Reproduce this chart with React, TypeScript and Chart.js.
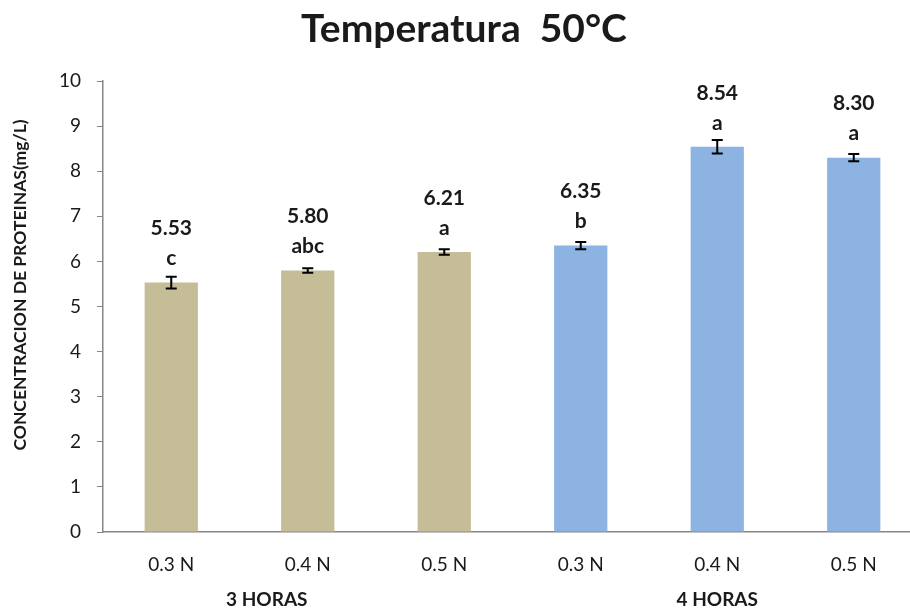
import React, { useEffect, useRef } from "react";
import { Chart, registerables } from "chart.js";

Chart.register(...registerables);

const categories = ["0.3 N", "0.4 N", "0.5 N", "0.3 N", "0.4 N", "0.5 N"];
const values = [5.53, 5.8, 6.21, 6.35, 8.54, 8.3];
const errors = [0.13, 0.05, 0.06, 0.08, 0.15, 0.08];
const letters = ["c", "abc", "a", "b", "a", "a"];
const valueLabels = ["5.53", "5.80", "6.21", "6.35", "8.54", "8.30"];
const groups = [
  { label: "3 HORAS", at: 0.7 },
  { label: "4 HORAS", at: 4 },
];
const barColors = ["#c4bd97", "#c4bd97", "#c4bd97", "#8db3e2", "#8db3e2", "#8db3e2"];

const FONT = "Lato, 'Open Sans', sans-serif";
const TEXT = "#1a1a1a";

const overlay = {
  id: "overlay",
  afterDatasetsDraw(chart: any) {
    const ctx = chart.ctx;
    const x = chart.scales.x;
    const y = chart.scales.y;
    ctx.save();
    // error bars
    ctx.strokeStyle = "#000";
    ctx.lineWidth = 2;
    values.forEach((v, i) => {
      const px = x.getPixelForValue(i);
      const top = y.getPixelForValue(v + errors[i]);
      const bot = y.getPixelForValue(v - errors[i]);
      ctx.beginPath();
      ctx.moveTo(px, top);
      ctx.lineTo(px, bot);
      ctx.moveTo(px - 5.5, top);
      ctx.lineTo(px + 5.5, top);
      ctx.moveTo(px - 5.5, bot);
      ctx.lineTo(px + 5.5, bot);
      ctx.stroke();
    });
    // labels
    ctx.fillStyle = TEXT;
    ctx.textAlign = "center";
    ctx.textBaseline = "middle";
    ctx.font = `bold 21px ${FONT}`;
    values.forEach((v, i) => {
      const px = x.getPixelForValue(i);
      const py = y.getPixelForValue(v);
      ctx.fillText(letters[i], px, py - 24);
      ctx.fillText(valueLabels[i], px, py - 54);
    });
    // group labels
    ctx.font = `bold 19px ${FONT}`;
    groups.forEach((g) => {
      ctx.fillText(g.label, x.getPixelForValue(g.at), 600);
    });
    // title
    ctx.font = `bold 39px ${FONT}`;
    ctx.fillText("Temperatura  50°C", 464, 29);
    // y title
    ctx.translate(20, 285);
    ctx.rotate(-Math.PI / 2);
    ctx.font = `bold 17.5px ${FONT}`;
    ctx.fillText("CONCENTRACION DE PROTEINAS(mg/L)", 0, 0, 368);
    ctx.restore();
  },
};

export default function App() {
  const ref = useRef<HTMLCanvasElement>(null);
  useEffect(() => {
    const canvas = ref.current!;
    const chart = new Chart(canvas, {
      type: "bar",
      data: {
        labels: categories,
        datasets: [
          {
            data: values,
            backgroundColor: barColors,
            barPercentage: 0.39,
            categoryPercentage: 1,
          },
        ],
      },
      options: {
        animation: false,
        responsive: false,
        devicePixelRatio: 1,
        layout: { padding: { left: 0, top: 81, right: 8, bottom: 20 } },
        plugins: {
          legend: { display: false },
          tooltip: { enabled: false },
          title: { display: false },
        },
        scales: {
          x: {
            grid: { display: false, drawTicks: false },
            border: { color: "#868686", width: 1.5 },
            ticks: { color: TEXT, font: { family: FONT, size: 19 }, padding: 21 },
            afterFit: (s: any) => {
              s.height = 60;
            },
          },
          y: {
            min: 0,
            max: 10,
            grid: { drawOnChartArea: false, tickLength: 6, color: "#868686" },
            border: { color: "#868686", width: 1.5 },
            ticks: { stepSize: 1, color: TEXT, font: { family: FONT, size: 19 }, padding: 16 },
            afterFit: (s: any) => {
              s.width = 103;
            },
          },
        },
      },
      plugins: [overlay],
    });
    return () => chart.destroy();
  }, []);
  return (
    <div style={{ position: "fixed", left: 0, top: 0, width: 910, height: 612, overflow: "hidden", background: "#fff" }}>
      <canvas ref={ref} width={930} height={612} style={{ width: 930, height: 612, display: "block" }} />
    </div>
  );
}
